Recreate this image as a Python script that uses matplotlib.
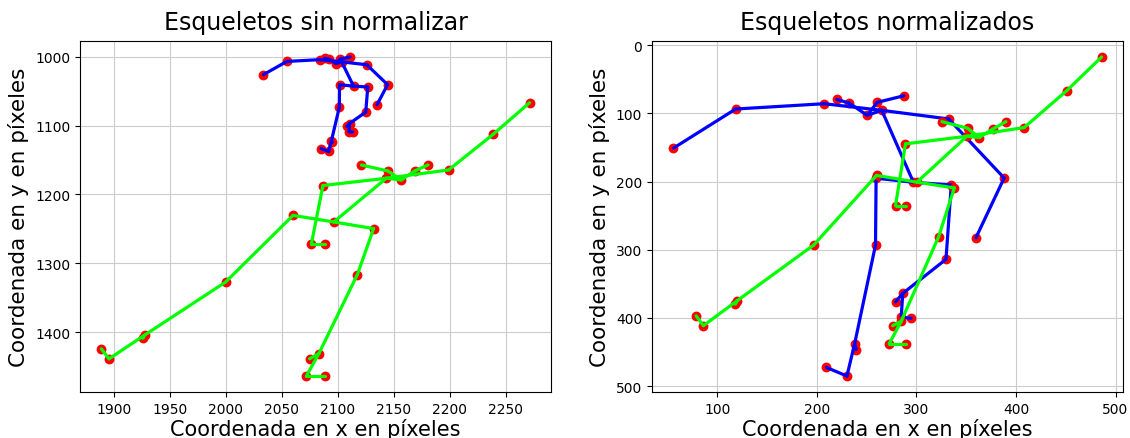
import matplotlib
matplotlib.use('Agg')
import matplotlib.pyplot as plt

# BODY_25 keypoint connections
pairs = [(1, 8), (1, 2), (1, 5), (2, 3), (3, 4), (5, 6), (6, 7), (8, 9), (9, 10),
         (10, 11), (8, 12), (12, 13), (13, 14), (1, 0), (0, 15), (15, 17), (0, 16),
         (16, 18), (14, 19), (19, 20), (14, 21), (11, 22), (22, 23), (11, 24)]

# ---- Raw skeletons (pixels) ----
blue_raw_x = [2098.5, 2103.4, 2084.1, 2054.5, 2033.6, 2125.8, 2144.4, 2134.9, 2114.0,
              2101.5, 2101.3, 2094.3, 2126.7, 2124.9, 2110.4, 2092.4, 2101.9, 2088.3,
              2110.8, 2109.9, 2113.2, 2108.0, 2091.7, 2084.9, 2094.9]
blue_raw_y = [1009.9, 1007.5, 1004.3, 1006.9, 1026.0, 1011.7, 1040.6, 1069.8, 1042.7,
              1040.7, 1073.4, 1121.8, 1044.0, 1080.4, 1097.0, 1003.9, 1003.6, 1002.2,
              1000.4, 1108.8, 1109.2, 1101.2, 1137.5, 1133.3, 1124.5]
green_raw_x = [2156.6, 2143.3, 2086.7, 2076.4, 2088.2, 2198.8, 2238.4, 2271.1, 2096.3,
               2060.0, 1999.9, 1927.7, 2131.9, 2117.4, 2083.1, 2144.7, 2168.5, 2121.0,
               2180.4, 2071.9, 2088.2, 2074.8, 1895.8, 1889.0, 1926.1]
green_raw_y = [1178.9, 1176.4, 1187.0, 1271.6, 1271.6, 1164.4, 1112.9, 1066.8, 1239.9,
               1230.3, 1327.0, 1403.9, 1249.5, 1316.3, 1430.8, 1165.9, 1165.9, 1157.2,
               1157.2, 1463.5, 1463.5, 1438.5, 1438.5, 1424.1, 1408.7]

# ---- Normalized skeletons ----
blue_norm_x = [250.6, 265.2, 207.2, 118.4, 55.9, 332.4, 388.1, 359.8, 297.0,
               259.5, 258.9, 237.9, 335.0, 329.7, 286.3, 232.3, 260.6, 219.9,
               287.4, 284.7, 294.7, 279.0, 230.2, 209.6, 239.6]
blue_norm_y = [102.7, 95.4, 85.7, 93.5, 150.9, 108.1, 194.7, 282.3, 201.0,
               195.0, 293.1, 438.2, 205.0, 314.0, 364.0, 84.7, 83.7, 79.4,
               74.0, 399.2, 400.6, 376.4, 485.3, 472.7, 446.4]
green_norm_x = [363.1, 350.8, 289.0, 279.0, 289.7, 408.2, 450.9, 486.0, 300.5,
                259.9, 196.8, 119.9, 338.1, 322.3, 284.7, 351.4, 376.5, 325.7,
                389.9, 272.6, 289.7, 276.2, 86.0, 78.7, 118.2]
green_norm_y = [135.3, 133.4, 144.6, 235.1, 235.1, 120.7, 66.7, 17.1, 200.8,
                190.9, 293.1, 374.8, 209.3, 280.9, 405.0, 121.7, 123.1, 112.0,
                112.0, 438.1, 438.1, 411.4, 411.4, 396.8, 379.8]

titles = ["Esqueletos sin normalizar", "Esqueletos normalizados"]
xlabel = "Coordenada en x en píxeles"
ylabel = "Coordenada en y en píxeles"

fig = plt.figure(figsize=(11.3, 4.39), dpi=100)
ax1 = fig.add_axes([0.0708, 0.1048, 0.4168, 0.7995])
ax2 = fig.add_axes([0.577, 0.1048, 0.4168, 0.7995])


def draw(ax, xs, ys, color, z):
    ax.scatter(xs, ys, c='red', s=50, zorder=z, linewidths=0)
    for a, b in pairs:
        ax.plot([xs[a], xs[b]], [ys[a], ys[b]], color=color, lw=2.3,
                zorder=z + 1, solid_capstyle='round')


for ax, data, title in [
        (ax1, (blue_raw_x, blue_raw_y, green_raw_x, green_raw_y), titles[0]),
        (ax2, (blue_norm_x, blue_norm_y, green_norm_x, green_norm_y), titles[1])]:
    draw(ax, data[0], data[1], '#0000ff', 3)
    draw(ax, data[2], data[3], '#00ff00', 5)
    ax.invert_yaxis()
    ax.grid(True, color='#cccccc', lw=0.8)
    ax.set_axisbelow(True)
    ax.set_title(title, fontsize=17, pad=9)
    ax.set_xlabel(xlabel, fontsize=15, labelpad=2)
    ax.set_ylabel(ylabel, fontsize=15.5, labelpad=4)

fig.savefig('out.png', dpi=100)
